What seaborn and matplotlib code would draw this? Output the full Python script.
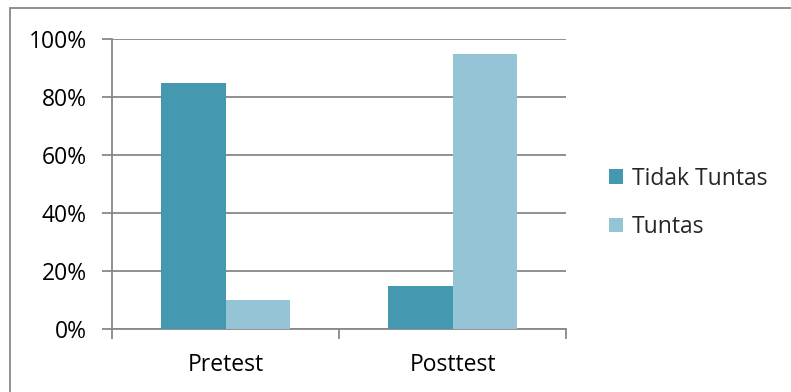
import matplotlib
matplotlib.use("Agg")
import matplotlib.pyplot as plt
import seaborn as sns
import pandas as pd
from matplotlib.patches import Rectangle

categories = ["Pretest", "Posttest"]
series_names = ["Tidak Tuntas", "Tuntas"]
tidak_tuntas = [85, 15]
tuntas = [10, 95]
y_ticks = [0, 20, 40, 60, 80, 100]
y_tick_labels = ["0%", "20%", "40%", "60%", "80%", "100%"]
palette = ["#4499B0", "#94C4D6"]

df = pd.DataFrame({
    "Tes": categories * 2,
    "Kategori": [series_names[0]] * 2 + [series_names[1]] * 2,
    "Persen": tidak_tuntas + tuntas,
})

sns.set_theme(style="white")
plt.rcParams["font.family"] = ["Open Sans", "DejaVu Sans"]

FS = 16.5
W, H, DPI = 791, 392, 100
fig = plt.figure(figsize=(W / DPI, H / DPI), dpi=DPI)
ax = fig.add_axes([112 / W, 1 - 329 / H, (566 - 112) / W, (329 - 39) / H])

sns.barplot(data=df, x="Tes", y="Persen", hue="Kategori", palette=palette,
            width=0.57, saturation=1, linewidth=0, ax=ax, zorder=3, legend=True)

ax.set_ylim(0, 100)
ax.set_xlim(-0.5, 1.5)
ax.set_yticks(y_ticks)
ax.set_yticklabels(y_tick_labels)
ax.yaxis.grid(True, color="#888888", linewidth=1.3, zorder=0)
ax.set_axisbelow(True)
ax.set_xlabel("")
ax.set_ylabel("")

ax.set_xticks([0, 1])
ax.set_xticklabels(categories)
ax.set_xticks([-0.5, 0.5, 1.5], minor=True)
ax.tick_params(axis="x", which="major", length=0, pad=17, labelsize=FS, colors="black")
ax.tick_params(axis="x", which="minor", length=7, width=1.3, color="#888888", bottom=True)
ax.tick_params(axis="y", length=7, width=1.3, color="#888888", left=True, pad=11,
               labelsize=FS, labelcolor="black")

for side in ["top", "right"]:
    ax.spines[side].set_visible(False)
for side in ["left", "bottom"]:
    ax.spines[side].set_color("#888888")
    ax.spines[side].set_linewidth(1.3)

leg = ax.legend(loc="center left", bbox_to_anchor=((609 - 112) / (566 - 112), 0.435),
                frameon=False, fontsize=FS, handlelength=0.6, handleheight=0.6,
                handletextpad=0.4, labelspacing=1.05, borderpad=0, borderaxespad=0,
                title=None)

# outer chart border, running off the right and bottom edges
fig.patches.append(Rectangle((10 / W, -10 / H), (820 - 10) / W, (392 - 8 + 10) / H,
                             transform=fig.transFigure, fill=False,
                             edgecolor="#888888", linewidth=1.3))

fig.savefig("out.png", dpi=DPI)
